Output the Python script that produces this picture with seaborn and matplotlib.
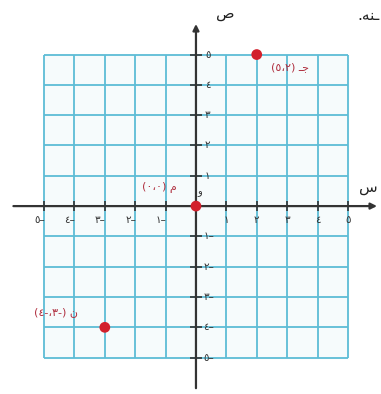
import matplotlib
matplotlib.use("Agg")
import matplotlib.pyplot as plt
import numpy as np
import pandas as pd
import seaborn as sns

# points on the grid
pt_names = ["ـﺟ", "م", "ن"]
pt_x = [2, 0, -3]
pt_y = [5, 0, -4]
pt_text = ["(٥،٢) ـﺟ", "(٠،٠) م", "(٤-،٣-) ن"]

grid_vals = [-5, -4, -3, -2, -1, 0, 1, 2, 3, 4, 5]
x_pos_labels = ["١", "٢", "٣", "٤", "٥"]
x_neg_labels = ["٥–", "٤–", "٣–", "٢–", "١–"]
y_pos_labels = ["٥", "٤", "٣", "٢", "١"]
y_neg_labels = ["١–", "٢–", "٣–", "٤–", "٥–"]

sns.set_style("white")
plt.rcParams["font.family"] = ["DejaVu Sans"]

fig = plt.figure(figsize=(3.81, 3.94), dpi=100)
ax = fig.add_axes([0, 0, 1, 1])
ax.set_xlim(-6.45, 6.09)
ax.set_ylim(-6.2, 6.8)
ax.axis("off")

grid_col = "#5dbcd6"
ax.add_patch(plt.Rectangle((-5, -5), 10, 10, color="#f6fbfc", zorder=0))
ax.vlines(grid_vals, -5, 5, color=grid_col, lw=1.3, zorder=1)
ax.hlines(grid_vals, -5, 5, color=grid_col, lw=1.3, zorder=1)

# axes with arrows
ax.annotate("", xy=(6.05, 0), xytext=(-6.1, 0),
            arrowprops=dict(arrowstyle="-|>", color="#333333", lw=1.6, mutation_scale=9))
ax.annotate("", xy=(0, 6.1), xytext=(0, -6.1),
            arrowprops=dict(arrowstyle="-|>", color="#333333", lw=1.6, mutation_scale=9))

ticks = [v for v in grid_vals if v != 0]
ax.plot(ticks, [0] * len(ticks), ls="none", marker="|", ms=7, mew=1.2, color="#333333")
ax.plot([0] * len(ticks), ticks, ls="none", marker="_", ms=9, mew=1.2, color="#333333")

tc = "#333333"
fs = 7.5
for v, lab in zip([1, 2, 3, 4, 5], x_pos_labels):
    ax.text(v, -0.47, lab, ha="center", va="center", fontsize=fs, color=tc)
for v, lab in zip([-5, -4, -3, -2, -1], x_neg_labels):
    ax.text(v - 0.15, -0.47, lab, ha="center", va="center", fontsize=fs, color=tc)
for v, lab in zip([5, 4, 3, 2, 1], y_pos_labels):
    ax.text(0.3, v, lab, ha="left", va="center", fontsize=fs, color=tc)
for v, lab in zip([-1, -2, -3, -4, -5], y_neg_labels):
    ax.text(0.25, v, lab, ha="left", va="center", fontsize=fs, color=tc)

df = pd.DataFrame({"x": pt_x, "y": pt_y, "name": pt_names})
sns.scatterplot(data=df, x="x", y="y", ax=ax, color="#d2202c", s=60,
                edgecolor="none", zorder=5, legend=False)

offsets = [(1.1, -0.4), (-1.2, 0.6), (-1.6, 0.5)]
for xv, yv, t, (dx, dy) in zip(pt_x, pt_y, pt_text, offsets):
    ax.text(xv + dx, yv + dy, t, ha="center", va="center", fontsize=8,
            color="#b03040")

ax.text(0.12, 0.45, "و", ha="center", va="center", fontsize=7, color=tc)
ax.text(0.95, 6.35, "ص", ha="center", va="center", fontsize=11, color="#222222")
ax.text(5.68, 0.62, "س", ha="center", va="center", fontsize=11, color="#222222")
ax.text(5.3, 6.3, ".ﻪﻨـ", ha="left", va="center", fontsize=11, color="#222222")

fig.savefig("out.png", dpi=100)
